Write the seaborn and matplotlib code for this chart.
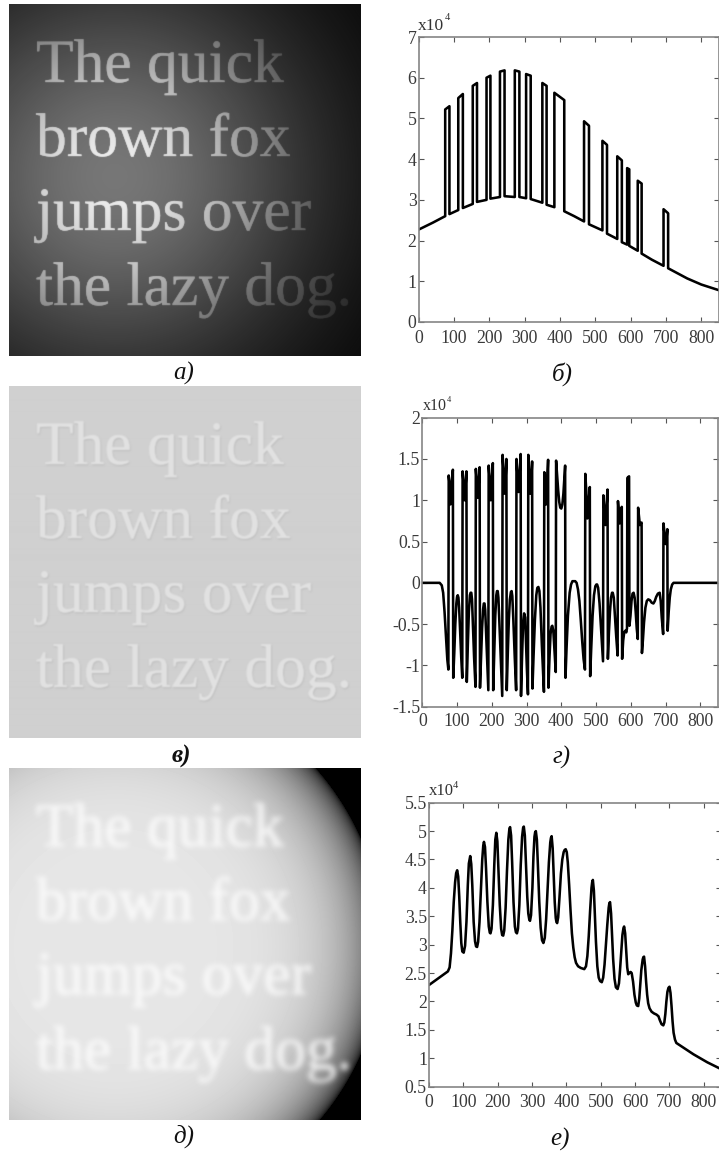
import numpy as np
import seaborn as sns
import matplotlib.pyplot as plt
import matplotlib.patheffects as pe

FIG_W, FIG_H = 719, 1151

# Values are in units of 10^4
x_b = [0, 40, 75, 75, 87, 87, 112, 112, 125, 125, 153, 153, 165, 165, 192, 192, 203, 203, 230, 230, 243, 243,
       272, 272, 285, 285, 304, 304, 317, 317, 350, 350, 362, 362, 384, 384, 412, 412, 440, 468, 468, 482, 482,
       520, 520, 533, 533, 562, 562, 575, 575, 590, 590, 596, 596, 620, 620, 631, 631, 660, 693, 693, 706, 706,
       760, 800, 850]
y_b = [2.27, 2.44, 2.6, 5.22, 5.3, 2.65, 2.75, 5.5, 5.6, 2.8, 2.9, 5.8, 5.87, 2.95, 3.0, 6.0, 6.05, 3.03, 3.07,
       6.15, 6.18, 3.09, 3.07, 6.18, 6.15, 3.07, 3.04, 6.09, 6.05, 3.02, 2.93, 5.87, 5.8, 2.88, 2.82, 5.63, 5.45,
       2.72, 2.6, 2.47, 4.93, 4.82, 2.4, 2.25, 4.45, 4.35, 2.17, 2.04, 4.07, 3.97, 1.96, 1.9, 3.78, 3.75, 1.87,
       1.75, 3.47, 3.4, 1.68, 1.53, 1.38, 2.77, 2.67, 1.32, 1.07, 0.92, 0.78]

x_g = [0, 50, 56, 60, 64, 68, 72, 75,
       76, 78, 81, 84, 88, 89, 92, 95, 98, 100, 102, 104, 106, 109, 112, 115,
       116, 119, 122, 125, 127, 128, 131, 134, 137, 139, 141, 143, 146, 149, 153,
       154, 157, 160, 163, 165, 166, 169, 172, 175, 177, 179, 181, 184, 187, 190,
       191, 194, 197, 200, 203, 204, 207, 210, 213, 215, 217, 219, 222, 226, 230,
       231, 234, 237, 240, 242, 243, 246, 249, 252, 255, 257, 259, 262, 266, 270,
       271, 274, 277, 280, 283, 284, 287, 290, 293, 296, 299, 301, 304,
       305, 308, 311, 314, 316, 317, 320, 324, 328, 331, 334, 337, 340, 344, 347, 350,
       351, 354, 356, 359, 362, 363, 366, 369, 372, 374, 377, 380, 384,
       385, 388, 391, 394, 397, 400, 403, 406, 409, 411, 412, 415, 419, 424, 428, 432, 436, 440, 444, 448, 452, 456, 460, 464, 468,
       469, 472, 475, 479, 482, 483, 486, 490, 494, 498, 501, 503, 506, 510, 515, 520,
       521, 524, 527, 530, 533, 534, 537, 540, 543, 546, 548, 551, 554, 558, 562,
       563, 565, 568, 571, 574, 575, 578, 581, 584, 587, 589,
       590, 592, 595, 596, 599, 602, 605, 608, 611, 614, 617, 620,
       621, 624, 626, 629, 631, 632, 635, 638, 642, 646, 650, 655, 660, 665, 669, 673, 678, 683, 686, 689, 693,
       694, 697, 700, 703, 705, 706, 709, 712, 715, 719, 723, 728, 735, 850]
y_g = [0, 0, -0.03, -0.12, -0.35, -0.65, -0.93, -1.05,
       1.3, 1.22, 0.95, 1.18, 1.37, -1.15, -0.85, -0.5, -0.25, -0.17, -0.15, -0.18, -0.3, -0.6, -0.9, -1.15,
       1.35, 1.2, 1.0, 1.2, 1.35, -1.2, -0.75, -0.35, -0.15, -0.12, -0.12, -0.2, -0.55, -0.9, -1.26,
       1.38, 1.22, 1.03, 1.25, 1.4, -1.27, -0.9, -0.55, -0.32, -0.25, -0.25, -0.33, -0.65, -1.0, -1.3,
       1.42, 1.25, 1.0, 1.25, 1.45, -1.3, -0.85, -0.4, -0.15, -0.1, -0.1, -0.18, -0.5, -0.95, -1.37,
       1.55, 1.35, 1.08, 1.3, 1.5, -1.3, -0.85, -0.45, -0.2, -0.11, -0.1, -0.16, -0.45, -0.9, -1.3,
       1.5, 1.3, 1.1, 1.32, 1.56, -1.37, -0.9, -0.5, -0.37, -0.42, -0.8, -1.05, -1.35,
       1.55, 1.3, 1.08, 1.28, 1.47, -1.28, -0.9, -0.45, -0.15, -0.06, -0.05, -0.1, -0.3, -0.75, -1.05, -1.32,
       1.34, 1.12, 0.95, 1.2, 1.49, -1.27, -0.9, -0.62, -0.53, -0.52, -0.58, -0.8, -1.08,
       1.48, 1.3, 1.12, 0.98, 0.91, 0.9, 0.95, 1.08, 1.28, 1.42, -1.15, -0.8, -0.4, -0.12, -0.02, 0.02, 0.02, 0.02, 0, -0.08, -0.22, -0.45, -0.7, -0.92, -1.05,
       1.32, 1.1, 0.78, 1.0, 1.16, -1.13, -0.8, -0.4, -0.15, -0.04, -0.02, -0.02, -0.06, -0.25, -0.6, -0.95,
       1.06, 0.88, 0.7, 0.92, 1.13, -0.92, -0.6, -0.35, -0.18, -0.12, -0.12, -0.18, -0.38, -0.65, -0.88,
       0.99, 0.88, 0.72, 0.82, 0.92, -0.92, -0.7, -0.6, -0.58, -0.6, -0.55,
       1.27, 1.28, 1.29, -0.52, -0.4, -0.22, -0.13, -0.12, -0.18, -0.35, -0.55, -0.68,
       0.91, 0.78, 0.7, 0.72, 0.73, -0.85, -0.68, -0.48, -0.3, -0.22, -0.2, -0.21, -0.24, -0.25, -0.22, -0.17, -0.13, -0.12, -0.22, -0.42, -0.62,
       0.72, 0.6, 0.47, 0.55, 0.65, -0.58, -0.35, -0.18, -0.08, -0.02, 0, 0, 0, 0]

x_e = [0, 30, 55, 60, 64, 68, 72, 76, 79, 82, 85, 88, 91, 94, 97, 101, 105,
       109, 113, 116, 120, 123, 126, 130, 134, 137, 140, 143,
       147, 151, 155, 158, 160, 163, 166, 170, 174, 177, 179, 182,
       186, 190, 193, 196, 199, 202, 206, 210, 213, 216, 219,
       223, 227, 231, 234, 236, 239, 242, 246, 250, 253, 256, 259,
       263, 267, 271, 274, 276, 279, 282, 286, 289, 292, 294, 297,
       301, 304, 307, 309, 311, 314, 317, 321, 325, 329, 333, 337,
       341, 345, 349, 353, 355, 357, 360, 363, 366, 369, 371, 373, 376,
       380, 384, 388, 392, 395, 398, 401, 404, 408, 412, 416, 420, 424, 428, 434, 442, 452,
       457, 461, 465, 469, 473, 475, 477, 480, 483, 486, 490, 494, 498, 503, 507,
       511, 515, 519, 523, 525, 527, 530, 533, 536, 540, 544, 549, 553,
       556, 560, 563, 566, 568, 571, 574, 577, 580, 583, 587, 590,
       594, 598, 602, 605, 609, 612, 615, 618, 622, 624, 626, 629, 632, 635, 638,
       642, 648, 655, 662, 668, 672, 677, 682, 685, 688, 691, 694, 697, 700, 703, 706, 709, 712, 716, 720,
       735, 770, 810, 850]
y_e = [2.29, 2.42, 2.53, 2.6, 2.85, 3.25, 3.75, 4.1, 4.26, 4.31, 4.2, 3.85, 3.4, 3.03, 2.88, 2.86, 2.98,
       3.4, 4.05, 4.43, 4.56, 4.42, 4.05, 3.4, 3.06, 2.97, 2.96, 3.05,
       3.4, 3.95, 4.5, 4.75, 4.81, 4.72, 4.35, 3.75, 3.32, 3.21, 3.2, 3.28,
       3.7, 4.4, 4.85, 4.97, 4.82, 4.35, 3.7, 3.28, 3.17, 3.16, 3.25,
       3.65, 4.3, 4.85, 5.04, 5.07, 4.92, 4.45, 3.75, 3.32, 3.22, 3.2, 3.28,
       3.7, 4.4, 4.9, 5.06, 5.08, 4.92, 4.45, 3.85, 3.55, 3.44, 3.42, 3.52,
       4.0, 4.55, 4.9, 4.98, 5.0, 4.85, 4.4, 3.75, 3.3, 3.08, 3.03, 3.12,
       3.45, 3.95, 4.45, 4.8, 4.88, 4.91, 4.7, 4.2, 3.75, 3.47, 3.4, 3.38, 3.48,
       3.85, 4.25, 4.5, 4.63, 4.67, 4.68, 4.63, 4.45, 4.05, 3.6, 3.2, 2.95, 2.78, 2.68, 2.62, 2.59, 2.57,
       2.62, 2.8, 3.15, 3.6, 4.0, 4.1, 4.14, 3.95, 3.5, 3.05, 2.62, 2.42, 2.36, 2.34, 2.42,
       2.65, 3.0, 3.35, 3.65, 3.73, 3.75, 3.55, 3.15, 2.75, 2.4, 2.25, 2.22, 2.32,
       2.55, 2.9, 3.17, 3.29, 3.32, 3.2, 2.9, 2.6, 2.48, 2.5, 2.52, 2.5,
       2.35, 2.12, 1.98, 1.93, 1.92, 2.05, 2.3, 2.55, 2.74, 2.78, 2.79, 2.62, 2.35, 2.12, 1.97,
       1.88, 1.82, 1.79, 1.77, 1.74, 1.67, 1.6, 1.58, 1.63, 1.78, 2.0, 2.17, 2.24, 2.26, 2.15, 1.92, 1.65, 1.45, 1.33, 1.27,
       1.21, 1.07, 0.93, 0.81]

x_ticks = [0, 100, 200, 300, 400, 500, 600, 700, 800]
y_ticks_b = [0, 1, 2, 3, 4, 5, 6, 7]
y_labels_b = ["0", "1", "2", "3", "4", "5", "6", "7"]
y_ticks_g = [-1.5, -1, -0.5, 0, 0.5, 1, 1.5, 2]
y_labels_g = ["-1.5", "-1", "-0.5", "0", "0.5", "1", "1.5", "2"]
y_ticks_e = [0.5, 1, 1.5, 2, 2.5, 3, 3.5, 4, 4.5, 5, 5.5]
y_labels_e = ["0.5", "1", "1.5", "2", "2.5", "3", "3.5", "4", "4.5", "5", "5.5"]

text_lines = ["The quick", "brown fox", "jumps over", "the lazy dog."]
baselines = [78, 152, 226, 301]

sns.set_theme(style="ticks")
plt.rcParams["font.family"] = ["Liberation Serif", "DejaVu Serif"]


def add_axes(left, top, right, bottom):
    # pixel box -> figure fraction
    return fig.add_axes([left / FIG_W, 1 - bottom / FIG_H, (right - left) / FIG_W, (bottom - top) / FIG_H])


class BlurText:
    # blurs the alpha of a drawn text, keeps the colour flat
    def __init__(self, sigma, grey):
        self.sigma = sigma
        self.grey = grey

    def __call__(self, im, dpi):
        pad = int(self.sigma * 3) + 2
        alpha = np.pad(im[:, :, 3], pad)
        t = np.arange(-pad, pad + 1)
        kernel = np.exp(-0.5 * (t / self.sigma) ** 2)
        kernel = kernel / kernel.sum()
        alpha = np.apply_along_axis(lambda a: np.convolve(a, kernel, mode="same"), 0, alpha)
        alpha = np.apply_along_axis(lambda a: np.convolve(a, kernel, mode="same"), 1, alpha)
        out = np.zeros(alpha.shape + (4,))
        out[:, :, :3] = self.grey
        out[:, :, 3] = alpha
        return out, -pad, -pad


def image_panel(top, grey, overlay=None):
    ax = add_axes(9, top, 361, top + 352)
    ax.imshow(grey, cmap="gray", vmin=0, vmax=255, extent=[0, 352, 352, 0], aspect="auto", interpolation="bilinear")
    if overlay is not None:
        rgba = np.zeros(overlay.shape + (4,))
        rgba[:, :, 3] = 1 - overlay
        ax.imshow(rgba, extent=[0, 352, 352, 0], aspect="auto", zorder=5, interpolation="bilinear")
    ax.set_xlim(0, 352)
    ax.set_ylim(352, 0)
    ax.axis("off")
    return ax


def put_lines(ax, color, sigma, grey, dx=0, dy=0, bold=0.2, **kw):
    for line, base in zip(text_lines, baselines):
        t = ax.text(27 + dx, base + dy, line, fontsize=44.3, color=color, va="baseline", ha="left", **kw)
        t.set_path_effects([pe.withStroke(linewidth=bold, foreground=color)])
        t.set_agg_filter(BlurText(sigma, grey))


def line_panel(box, xs, ys, y_ticks, y_labels, ylim, xpad, lab, lab_size, exp, exp_size):
    ax = add_axes(*box)
    sns.lineplot(x=xs, y=ys, sort=False, estimator=None, color="black", linewidth=1.85, ax=ax)
    ax.set_xlim(0, 850)
    ax.set_ylim(*ylim)
    ax.set_xticks(x_ticks)
    ax.set_xticklabels([str(v) for v in x_ticks])
    ax.set_yticks(y_ticks)
    ax.set_yticklabels(y_labels)
    ax.tick_params(direction="in", top=True, right=True, length=3.5, width=0.8, color="#555555",
                   labelsize=12.8, labelcolor="#3a3a3a")
    ax.tick_params(axis="x", pad=xpad)
    ax.tick_params(axis="y", pad=1.5)
    for side in ax.spines.values():
        side.set_linewidth(1.2)
        side.set_color("#858585")
    ax.set_xlabel("")
    ax.set_ylabel("")
    fig.text(lab[0] / FIG_W, 1 - lab[1] / FIG_H, "x10", fontsize=lab_size, color="#333333", va="baseline")
    fig.text(exp[0] / FIG_W, 1 - exp[1] / FIG_H, "4", fontsize=exp_size, color="#333333", va="baseline")
    return ax


def caption(x, y, label, **kw):
    fig.text(x / FIG_W, 1 - y / FIG_H, label, fontsize=18, style="italic", color="#111111",
             ha="center", va="baseline", **kw)


fig = plt.figure(figsize=(FIG_W / 100, FIG_H / 100), dpi=100)

# Grids for the three image backgrounds, in fractions of the 352 px square
yy, xx = np.mgrid[0:352, 0:352] / 351.0

# Panel a: spot of light, the overlay dims background and text together
r_a = np.hypot(xx - 0.30, yy - 0.49)
light = np.exp(-(r_a / 0.58) ** 2)
grey_a = 118 * np.exp(-(r_a / 0.583) ** 2) / light
ax_a = image_panel(4, grey_a, overlay=light)
put_lines(ax_a, "#f0f0f0", 0.5, 0.94)

# Panel v: flat grey with faintly embossed letters
ax_v = image_panel(386, np.full((352, 352), 208.0))
put_lines(ax_v, "#b4b4b4", 1.0, 0.7, dx=0.8, dy=1.2, alpha=0.35)
put_lines(ax_v, "#e3e3e3", 0.8, 0.89)

# Panel d: bright disc with black corners, letters heavily blurred
r_d = np.hypot(xx - 0.302, yy - 0.507) / 0.764
grey_d = 230 * np.sqrt(np.clip(1 - r_d ** 5, 0, 1))
ax_d = image_panel(768, grey_d)
put_lines(ax_d, "white", 2.8, 1.0, bold=0.8, alpha=0.55)

line_panel((418.7, 37, 719, 322), x_b, y_b, y_ticks_b, y_labels_b, (0, 7), 6, (418, 30), 12.5, (445, 20), 7.5)
line_panel((422.3, 417.7, 717.7, 706.7), x_g, y_g, y_ticks_g, y_labels_g, (-1.5, 2), 4.5, (423, 410), 11.5, (447, 402), 6)
line_panel((429, 802.7, 721, 1086.7), x_e, y_e, y_ticks_e, y_labels_e, (0.5, 5.5), 5, (429, 795), 12, (453, 788), 7.5)

caption(184, 380, "а)")
caption(562, 381, "б)")
caption(181, 763, "в)", fontweight="bold")
caption(562, 764, "г)")
caption(184, 1143, "д)")
caption(560, 1146, "е)")

fig.savefig("out.png", dpi=100)
